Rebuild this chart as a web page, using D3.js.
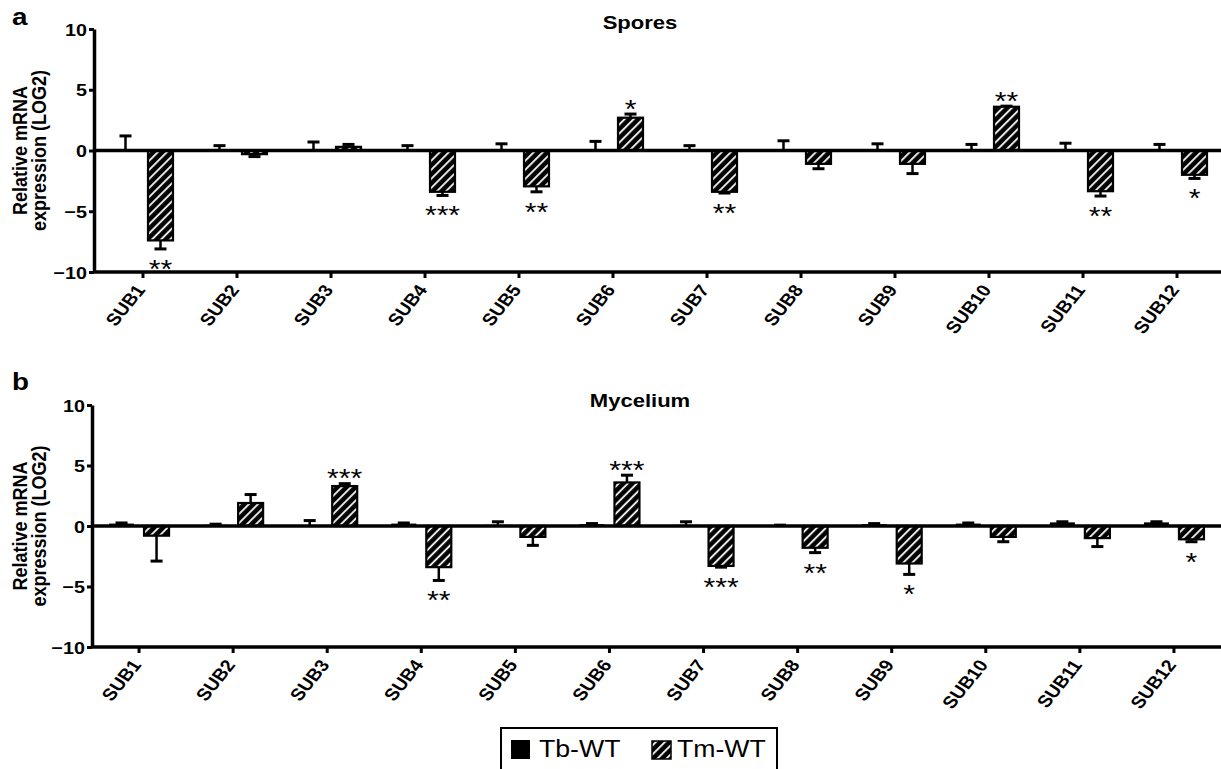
<!DOCTYPE html>
<html>
<head>
<meta charset="utf-8">
<script src="https://d3js.org/d3.v7.min.js"></script>
<style>
  body { margin: 0; background: #fff; }
  text { font-family: "Liberation Sans", Arial, sans-serif; fill: #000; }
</style>
</head>
<body>
<div id="vis"></div>
<script>

// categories and series
var categories = ["SUB1","SUB2","SUB3","SUB4","SUB5","SUB6","SUB7","SUB8","SUB9","SUB10","SUB11","SUB12"];
var series = ["Tb-WT","Tm-WT"];
var yTicks = [10, 5, 0, -5, -10];

// a: spores
var sporesTb    = [0, 0, 0, 0, 0, 0, 0, 0, 0, 0, 0, 0];
var sporesTbErr = [1.2, 0.4, 0.7, 0.4, 0.55, 0.75, 0.4, 0.8, 0.55, 0.5, 0.6, 0.5];
var sporesTm    = [-7.4, -0.3, 0.3, -3.4, -2.95, 2.7, -3.4, -1.1, -1.1, 3.6, -3.35, -2.0];
var sporesTmErr = [0.7, 0.2, 0.2, 0.3, 0.45, 0.3, 0.1, 0.4, 0.8, 0.05, 0.4, 0.3];
var sporesStars = ["**", "", "", "***", "**", "*", "**", "", "", "**", "**", "*"];

// b: mycelium
var mycTb    = [0.2, 0.1, 0, 0.2, 0.1, 0.15, 0.1, 0.05, 0.15, 0.2, 0.3, 0.3];
var mycTbErr = [0.05, 0.05, 0.45, 0.05, 0.25, 0.05, 0.25, 0.02, 0.05, 0.05, 0.05, 0.05];
var mycTm    = [-0.8, 1.9, 3.3, -3.4, -0.9, 3.6, -3.3, -1.8, -3.1, -0.9, -1.0, -1.1];
var mycTmErr = [2.1, 0.7, 0.2, 1.1, 0.7, 0.6, 0.1, 0.4, 0.9, 0.4, 0.7, 0.2];
var mycStars = ["", "", "***", "**", "", "***", "***", "**", "*", "", "", "*"];

var stretch = 1.16;   // the figure is a little wider than tall

var svg = d3.select("#vis").append("svg")
  .attr("width", 1221)
  .attr("height", 769);

var defs = svg.append("defs");
var pat = defs.append("pattern")
  .attr("id", "hatch")
  .attr("patternUnits", "userSpaceOnUse")
  .attr("width", 6.4)
  .attr("height", 10)
  .attr("patternTransform", "rotate(45)");
pat.append("rect").attr("width", 6.4).attr("height", 10).attr("fill", "#000");
pat.append("rect").attr("x", 2).attr("width", 1.8).attr("height", 10).attr("fill", "#fff");

function stext(g, x, y, txt, opts) {
  opts = opts || {};
  return g.append("text")
    .attr("transform", "translate(" + x + "," + y + ") scale(" + stretch + ",1)" + (opts.rot ? " rotate(" + opts.rot + ")" : ""))
    .attr("text-anchor", opts.anchor || "start")
    .attr("font-size", opts.size || 16)
    .attr("font-weight", opts.bold ? "bold" : "normal")
    .text(txt);
}

var panels = [
  {letter: "a", title: "Spores", tb: sporesTb, tbErr: sporesTbErr, tm: sporesTm, tmErr: sporesTmErr, stars: sporesStars,
   axisX: 94, xRange: [96, 1224], yRange: [272, 29], letterY: 25, titleY: 29},
  {letter: "b", title: "Mycelium", tb: mycTb, tbErr: mycTbErr, tm: mycTm, tmErr: mycTmErr, stars: mycStars,
   axisX: 92, xRange: [92, 1221], yRange: [647, 405], letterY: 390, titleY: 407}
];

panels.forEach(function(p) {
  var g = svg.append("g");

  var x0 = d3.scaleBand().domain(categories).range(p.xRange).padding(0);
  var x1 = d3.scaleBand().domain(series).range([-30, 30]).paddingInner(0.286);
  var y = d3.scaleLinear().domain([-10, 10]).range(p.yRange);

  stext(g, 12, p.letterY, p.letter, {size: 24, bold: true});
  stext(g, 640, p.titleY, p.title, {size: 19, bold: true, anchor: "middle"});

  // y label
  var ymid = y(0);
  stext(g, 27, ymid, "Relative mRNA", {size: 18, bold: true, anchor: "middle", rot: -90});
  stext(g, 46, ymid, "expression (LOG2)", {size: 18, bold: true, anchor: "middle", rot: -90});

  // y axis
  var yAxis = g.append("g")
    .attr("transform", "translate(" + p.axisX + ",0)")
    .call(d3.axisLeft(y).tickValues(yTicks).tickSize(5).tickSizeOuter(0)
      .tickFormat(function(d) { return d < 0 ? "\u2212" + Math.abs(d) : d; }));
  yAxis.select(".domain").attr("stroke-width", 3.5);
  yAxis.selectAll(".tick line").attr("stroke-width", 3);
  yAxis.selectAll(".tick text")
    .attr("x", -6)
    .attr("dy", "0.36em")
    .attr("font-size", 17)
    .attr("font-weight", "bold")
    .attr("font-family", "Liberation Sans, Arial, sans-serif")
    .attr("transform", "scale(" + stretch + ",1)");

  // x axis at -10
  var xAxis = g.append("g")
    .attr("transform", "translate(0," + y(-10) + ")")
    .call(d3.axisBottom(x0).tickSize(6).tickSizeOuter(0).tickFormat(""));
  xAxis.select(".domain").remove();
  xAxis.selectAll(".tick line").attr("stroke-width", 3);
  g.append("line")
    .attr("x1", p.axisX).attr("x2", 1221)
    .attr("y1", y(-10)).attr("y2", y(-10))
    .attr("stroke", "#000").attr("stroke-width", 3.5);

  categories.forEach(function(c) {
    stext(g, x0(c) + x0.bandwidth() / 2 + 3, y(-10) + 18, c, {size: 17, bold: true, anchor: "end", rot: -55});
  });

  // bars
  var bw = x1.bandwidth();
  var rows = categories.map(function(c, i) {
    return {cat: c, tb: p.tb[i], tbErr: p.tbErr[i], tm: p.tm[i], tmErr: p.tmErr[i], stars: p.stars[i]};
  });

  var grp = g.selectAll(".grp").data(rows).enter().append("g")
    .attr("transform", function(d) { return "translate(" + (x0(d.cat) + x0.bandwidth() / 2) + ",0)"; });

  // error bars (drawn before bars)
  function errBar(sel, key, errKey, s) {
    sel.each(function(d) {
      var v = d[key], e = d[errKey];
      var end = v >= 0 ? v + e : v - e;
      var cx = x1(s) + bw / 2;
      var gg = d3.select(this);
      gg.append("line").attr("x1", cx).attr("x2", cx).attr("y1", y(v)).attr("y2", y(end))
        .attr("stroke", "#000").attr("stroke-width", 2.5);
      gg.append("line").attr("x1", cx - 6).attr("x2", cx + 6).attr("y1", y(end)).attr("y2", y(end))
        .attr("stroke", "#000").attr("stroke-width", 3);
    });
  }
  errBar(grp, "tb", "tbErr", "Tb-WT");
  errBar(grp, "tm", "tmErr", "Tm-WT");

  grp.append("rect")
    .attr("x", x1("Tb-WT"))
    .attr("width", bw)
    .attr("y", function(d) { return y(Math.max(0, d.tb)); })
    .attr("height", function(d) { return Math.abs(y(d.tb) - y(0)); })
    .attr("fill", "#000");

  grp.append("rect")
    .attr("x", x1("Tm-WT"))
    .attr("width", bw)
    .attr("y", function(d) { return y(Math.max(0, d.tm)); })
    .attr("height", function(d) { return Math.abs(y(d.tm) - y(0)); })
    .attr("fill", "url(#hatch)")
    .attr("stroke", "#000")
    .attr("stroke-width", 2.2);

  // stars
  grp.each(function(d) {
    if (!d.stars) return;
    var end = d.tm >= 0 ? d.tm + d.tmErr : d.tm - d.tmErr;
    var cy = d.tm >= 0 ? y(end) - 11.5 : y(end) + 14;
    stext(d3.select(this), x1("Tm-WT") + bw / 2, cy + 15, d.stars, {size: 26, anchor: "middle"});
  });

  // zero line
  g.append("line")
    .attr("x1", p.axisX).attr("x2", 1221)
    .attr("y1", y(0)).attr("y2", y(0))
    .attr("stroke", "#000").attr("stroke-width", 3.5);
});

// legend
var leg = svg.append("g");
leg.append("rect").attr("x", 501).attr("y", 728).attr("width", 276).attr("height", 60)
  .attr("fill", "#fff").attr("stroke", "#000").attr("stroke-width", 2);
leg.append("rect").attr("x", 511).attr("y", 740).attr("width", 19).attr("height", 19).attr("fill", "#000");
stext(leg, 539, 757, series[0], {size: 23});
leg.append("rect").attr("x", 652).attr("y", 741).attr("width", 19).attr("height", 18)
  .attr("fill", "url(#hatch)").attr("stroke", "#000").attr("stroke-width", 1.5);
stext(leg, 677, 757, series[1], {size: 23});

</script>
</body>
</html>
